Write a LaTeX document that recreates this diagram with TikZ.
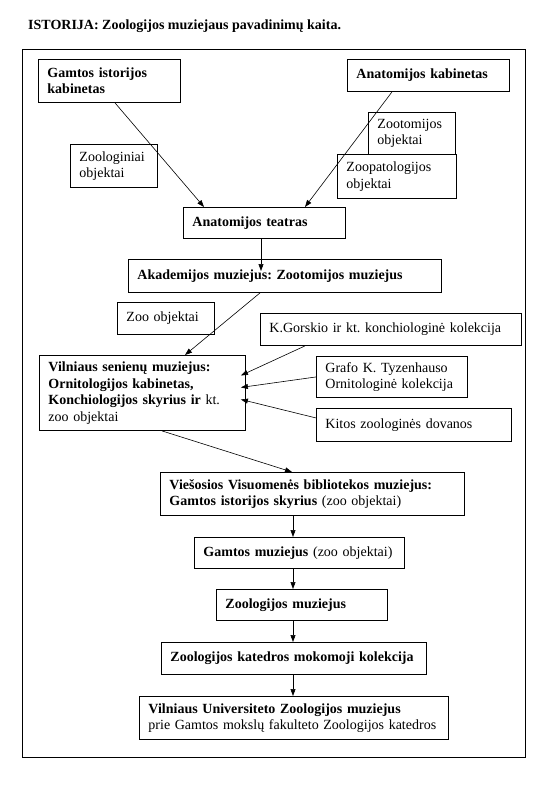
\documentclass[tikz,border=0pt]{standalone}
\usepackage{fontspec}
\setmainfont{Liberation Serif}
\usetikzlibrary{arrows.meta}
\frenchspacing
\begin{document}
\begin{tikzpicture}[x=1pt,y=-1pt,
  box/.style={draw, line width=0.9pt, anchor=north west, inner xsep=9pt, inner ysep=0pt,
    align=left, font=\fontsize{14}{16.5}\selectfont},
  bbox/.style={box, font=\fontsize{14}{16.5}\selectfont\bfseries},
  conn/.style={line width=0.6pt, -{Triangle[length=7pt,width=5pt]}}]
\useasboundingbox (0,0) rectangle (550,785);
\node[anchor=base west, inner sep=0pt, font=\fontsize{14}{16.5}\selectfont\bfseries] (title) at (28,29)
  {ISTORIJA: Zoologijos muziejaus pavadinimų kaita.};
\node[draw, line width=0.9pt, anchor=north west, inner sep=0pt, minimum width=503.5pt, minimum height=708.5pt] (frame) at (21.5,48.5) {};
% top row
\node[bbox, text width=124pt, minimum height=43pt] (gik) at (38,59) {Gamtos istorijos\\kabinetas};
\node[bbox, text width=144pt, minimum height=32pt] (anat) at (347,59) {Anatomijos kabinetas};
\node[box, text width=69pt, minimum height=42pt] (zootom) at (368,112) {Zootomijos\\objektai};
\node[box, text width=101pt, minimum height=44pt] (zoopat) at (337,154) {Zoopatologijos\\objektai};
\node[box, text width=69pt, minimum height=43pt] (zoolog) at (70,144) {Zoologiniai\\objektai};
\node[bbox, text width=144pt, minimum height=31pt] (teatras) at (183,207) {Anatomijos teatras};
\node[bbox, text width=295pt, minimum height=33pt] (akad) at (128,259) {Akademijos muziejus: Zootomijos muziejus};
\node[box, text width=79pt, minimum height=32pt] (zoo) at (117,302) {Zoo objektai};
\node[box, text width=243pt, minimum height=32pt] (gorskio) at (260,313) {K.Gorskio ir kt. konchiologinė kolekcija};
\node[box, text width=188pt, minimum height=75pt] (vil) at (39,355)
  {\textbf{Vilniaus senienų muziejus:}\\\textbf{Ornitologijos kabinetas,}\\\textbf{Konchiologijos skyrius ir} kt.\\zoo objektai};
\node[box, text width=133pt, minimum height=41pt] (grafo) at (316,356) {Grafo K. Tyzenhauso\\Ornitologinė kolekcija};
\node[box, text width=177pt, minimum height=33pt] (kitos) at (316,408) {Kitos zoologinės dovanos};
\node[box, text width=286pt, minimum height=43pt] (vies) at (160,472)
  {\textbf{Viešosios Visuomenės bibliotekos muziejus:}\\\textbf{Gamtos istorijos skyrius} (zoo objektai)};
\node[box, text width=192pt, minimum height=31pt] (gm) at (194,537) {\textbf{Gamtos muziejus} (zoo objektai)};
\node[bbox, text width=153pt, minimum height=31pt] (zm) at (216,589) {Zoologijos muziejus};
\node[bbox, text width=247pt, minimum height=32pt] (kat) at (161,642) {Zoologijos katedros mokomoji kolekcija};
\node[box, text width=291pt, minimum height=43pt] (vu) at (139,696)
  {\textbf{Vilniaus Universiteto Zoologijos muziejus}\\prie Gamtos mokslų fakulteto Zoologijos katedros};
% connectors
\draw[conn] ([xshift=77pt]gik.south west) -- ([xshift=21pt]teatras.north west);
\draw[conn] ([xshift=45pt]anat.south west) -- ([xshift=122pt]teatras.north west);
\draw[conn] ([xshift=78pt]teatras.south west) -- ([xshift=133pt,yshift=-12pt]akad.north west);
\draw[conn] ([xshift=132pt]akad.south west) -- ([xshift=146pt]vil.north west);
\draw[conn] ([xshift=45pt]gorskio.south west) -- ([xshift=-5pt,yshift=17.5pt]vil.east);
\draw[conn] (grafo.west) -- ([xshift=-5pt,yshift=5.5pt]vil.east);
\draw[conn] ([yshift=7pt]kitos.west) -- ([xshift=-5pt,yshift=-6.5pt]vil.east);
\draw[conn] ([xshift=123pt]vil.south west) -- ([xshift=132pt]vies.north west);
\coordinate (ax) at (293,0);
\draw[conn] (vies.south -| ax) -- (gm.north -| ax);
\draw[conn] (gm.south -| ax) -- (zm.north -| ax);
\draw[conn] (zm.south -| ax) -- (kat.north -| ax);
\draw[conn] (kat.south -| ax) -- (vu.north -| ax);
\end{tikzpicture}
\end{document}
